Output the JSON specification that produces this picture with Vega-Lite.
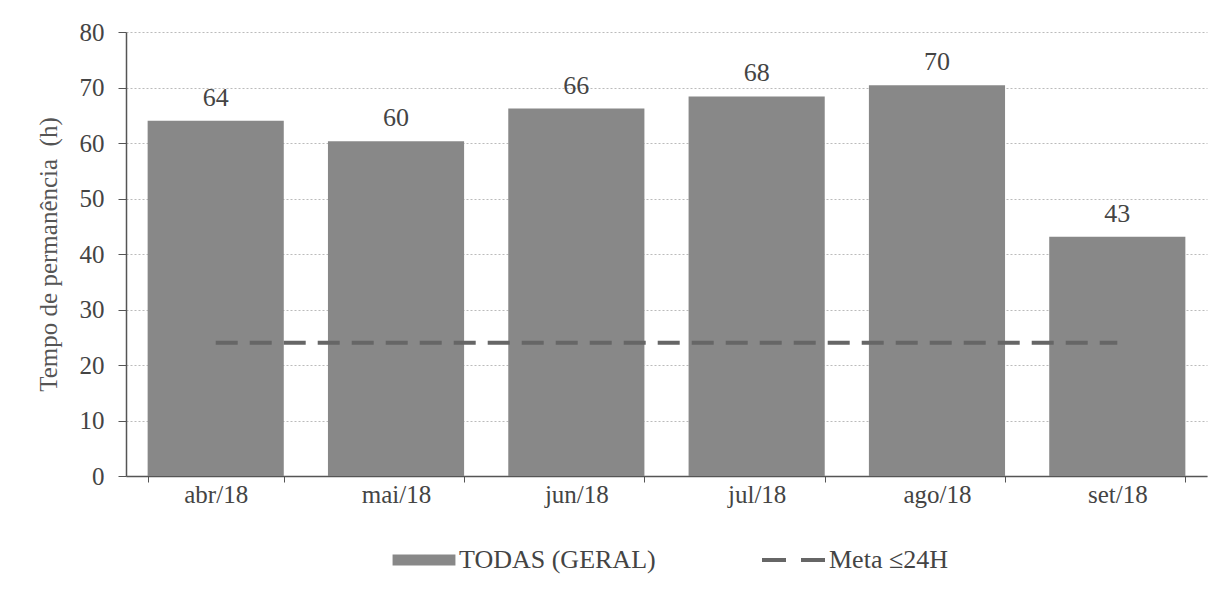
{
  "$schema": "https://vega.github.io/schema/vega-lite/v6.json",
  "width": 1081,
  "height": 444,
  "autosize": {"type": "none"},
  "padding": {"left": 126, "top": 32, "right": 23, "bottom": 115},
  "background": "white",
  "config": {
    "view": {"stroke": null},
    "font": "Times New Roman, Liberation Serif, DejaVu Serif, serif",
    "axis": {"labelFont": "Times New Roman, Liberation Serif, DejaVu Serif, serif", "titleFont": "Times New Roman, Liberation Serif, DejaVu Serif, serif", "labelFontSize": 25, "labelColor": "#444", "domainColor": "#555", "tickColor": "#555"},
    "legend": {"labelFont": "Times New Roman, Liberation Serif, DejaVu Serif, serif", "labelFontSize": 26, "labelColor": "#444", "labelLimit": 0},
    "text": {"font": "Times New Roman, Liberation Serif, DejaVu Serif, serif"}
  },
  "data": {
    "values": [
      {"mes": "abr/18", "valor": 64.0, "meta": 24},
      {"mes": "mai/18", "valor": 60.3, "meta": 24},
      {"mes": "jun/18", "valor": 66.2, "meta": 24},
      {"mes": "jul/18", "valor": 68.4, "meta": 24},
      {"mes": "ago/18", "valor": 70.4, "meta": 24},
      {"mes": "set/18", "valor": 43.1, "meta": 24}
    ]
  },
  "encoding": {
    "x": {
      "field": "mes", "type": "ordinal", "sort": null,
      "scale": {"paddingInner": 0.245, "paddingOuter": 0.12},
      "axis": {"title": null, "labelAngle": 0, "tickBand": "extent", "tickSize": 6, "labelPadding": 0, "domainWidth": 1.5}
    },
    "y": {
      "field": "valor", "type": "quantitative",
      "scale": {"domain": [0, 80]},
      "axis": {
        "title": "Tempo de permanência\u00a0\u00a0(h)", "titleFontSize": 25, "titleFontWeight": "normal", "titleColor": "#555",
        "titlePadding": 18, "values": [0, 10, 20, 30, 40, 50, 60, 70, 80],
        "gridColor": "#bbb", "gridDash": [2, 2], "tickSize": 8, "labelPadding": 14, "domainWidth": 1.5
      }
    }
  },
  "layer": [
    {
      "mark": {"type": "bar", "color": "#888888"},
      "encoding": {
        "color": {
          "datum": "TODAS (GERAL)",
          "scale": {"domain": ["TODAS (GERAL)", "Meta ≤24H"], "range": ["#888888", "#666666"]},
          "legend": {
            "title": null, "orient": "none", "legendX": 264, "legendY": 494, "direction": "horizontal",
            "symbolSize": 4096, "columnPadding": 98, "labelOffset": 1, "labelLimit": 0,
            "encode": {
              "symbols": {
                "update": {
                  "shape": {"signal": "datum.value == 'Meta ≤24H' ? 'stroke' : 'M-0.92,-0.11H0.92V0.11H-0.92Z'"},
                  "fill": {"signal": "datum.value == 'Meta ≤24H' ? 'transparent' : '#888888'"},
                  "stroke": {"signal": "datum.value == 'Meta ≤24H' ? '#666666' : 'transparent'"},
                  "strokeDash": {"signal": "datum.value == 'Meta ≤24H' ? [24, 15] : [1, 0]"},
                  "strokeWidth": {"value": 4}
                }
              }
            }
          }
        }
      }
    },
    {
      "mark": {"type": "text", "dy": -15, "baseline": "alphabetic", "fontSize": 26, "color": "#444"},
      "encoding": {
        "text": {"field": "valor", "type": "quantitative", "format": ".0f"}
      }
    },
    {
      "mark": {"type": "line", "strokeDash": [22, 12], "strokeWidth": 4, "color": "#666666"},
      "encoding": {
        "y": {"field": "meta", "type": "quantitative"},
        "color": {"datum": "Meta ≤24H"}
      }
    }
  ]
}
